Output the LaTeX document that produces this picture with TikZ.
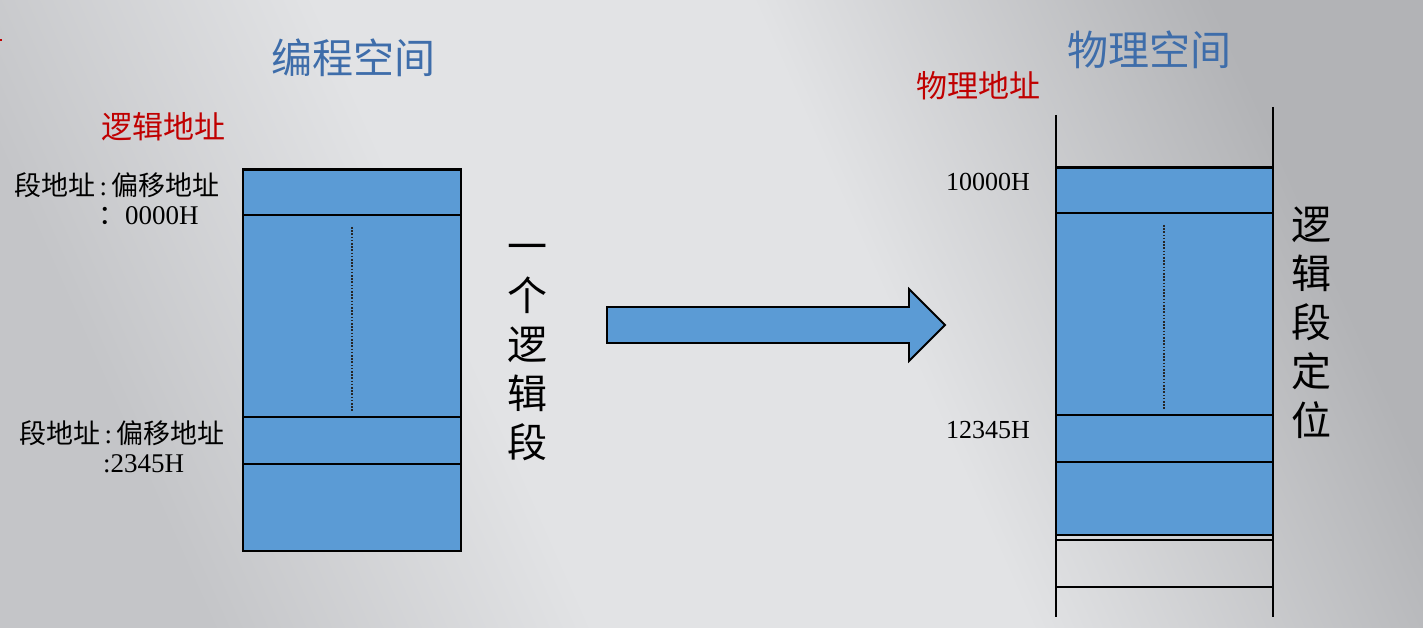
\documentclass[tikz,border=0pt]{standalone}
\usepackage{fontspec}
\setmainfont{Liberation Serif}
\newfontfamily\cjk{Noto Sans CJK SC}
\usetikzlibrary{shadings}
\definecolor{blockblue}{HTML}{5B9BD5}
\definecolor{titleblue}{HTML}{3E6DAA}
\definecolor{labred}{HTML}{C00000}
\definecolor{bgdark}{HTML}{B2B3B6}
\definecolor{bglight}{HTML}{E2E3E5}
\definecolor{bgmid}{HTML}{C4C5C8}
\pgfdeclareverticalshading{bgshade}{100bp}{color(0bp)=(bgmid); color(25bp)=(bgmid); color(40bp)=(bglight); color(57bp)=(bglight); color(75bp)=(bgdark); color(100bp)=(bgdark)}
\tikzset{
  blk/.style={line width=2pt, draw=black},
  topline/.style={line width=3pt, draw=black},
  midline/.style={line width=1.8pt, draw=black},
  dotv/.style={line width=1.6pt, dash pattern=on 1.6pt off 1.6pt, draw=black!85},
  title/.style={text=titleblue, font=\cjk\fontsize{41}{43}\selectfont, inner sep=0pt},
  redlab/.style={text=labred, font=\cjk\fontsize{31}{33}\selectfont, inner sep=0pt},
  addr/.style={text=black, font=\fontsize{27}{29}\selectfont, inner sep=0pt, align=left},
  hex/.style={text=black, font=\fontsize{26}{28}\selectfont, inner sep=0pt},
  vtext/.style={text=black, font=\cjk\fontsize{40}{49}\selectfont, inner sep=0pt, align=center}
}
\begin{document}
\begin{tikzpicture}[x=1pt,y=-1pt]
\useasboundingbox (0,0) rectangle (1423,628);
% background
\shade[shading=bgshade, shading angle=-66] (0,0) rectangle (1423,628);
% tiny red mark at left edge
\draw[labred, line width=1.5pt] (0,40) -- (2,40);

% titles
\node[title] (t1) at (353,58) {编程空间};
\node[title] (t2) at (1149,50) {物理空间};
\node[redlab] (r1) at (163,127) {逻辑地址};
\node[redlab] (r2) at (978,86) {物理地址};

% left block
\fill[blockblue] (243,170) rectangle (461,551);
\draw[blk] (243,170) -- (243,551) -- (461,551) -- (461,170);
\draw[topline] (242,170) -- (462,170);
\draw[midline] (243,215) -- (461,215);
\draw[midline] (243,417) -- (461,417);
\draw[midline] (243,464) -- (461,464);
\draw[dotv] (352,227) -- (352,411);

% left labels
\node[addr, anchor=north west] (a1) at (14,172) {{\cjk 段地址}\,:\,{\cjk 偏移地址}\\\hspace*{84pt}{\cjk ：}0000H};
\node[addr, anchor=north west] (a2) at (19,420) {{\cjk 段地址}\,:\,{\cjk 偏移地址}\\\hspace*{84pt}:2345H};

% vertical text middle
\node[vtext] (v1) at (527,353) {一\\个\\逻\\辑\\段};

% arrow
\fill[blockblue] (607,307) -- (909,307) -- (909,289) -- (945,325) -- (909,361) -- (909,343) -- (607,343) -- cycle;
\draw[line width=1.8pt, line join=miter] (607,307) -- (909,307) -- (909,289) -- (945,325) -- (909,361) -- (909,343) -- (607,343) -- cycle;

% right block
\fill[blockblue] (1056,168) rectangle (1273,535);
\draw[blk] (1056,115) -- (1056,617);
\draw[blk] (1273,107) -- (1273,617);
\draw[topline] (1055,168) -- (1274,168);
\draw[midline] (1056,213) -- (1273,213);
\draw[midline] (1056,415) -- (1273,415);
\draw[midline] (1056,462) -- (1273,462);
\draw[midline] (1056,535) -- (1273,535);
\draw[midline] (1056,540) -- (1273,540);
\draw[midline] (1056,587) -- (1273,587);
\draw[dotv] (1164,225) -- (1164,409);

% right labels
\node[hex] (h1) at (988,182) {10000H};
\node[hex] (h2) at (988,430) {12345H};
\node[vtext] (v2) at (1311,323) {逻\\辑\\段\\定\\位};
\end{tikzpicture}
\end{document}
